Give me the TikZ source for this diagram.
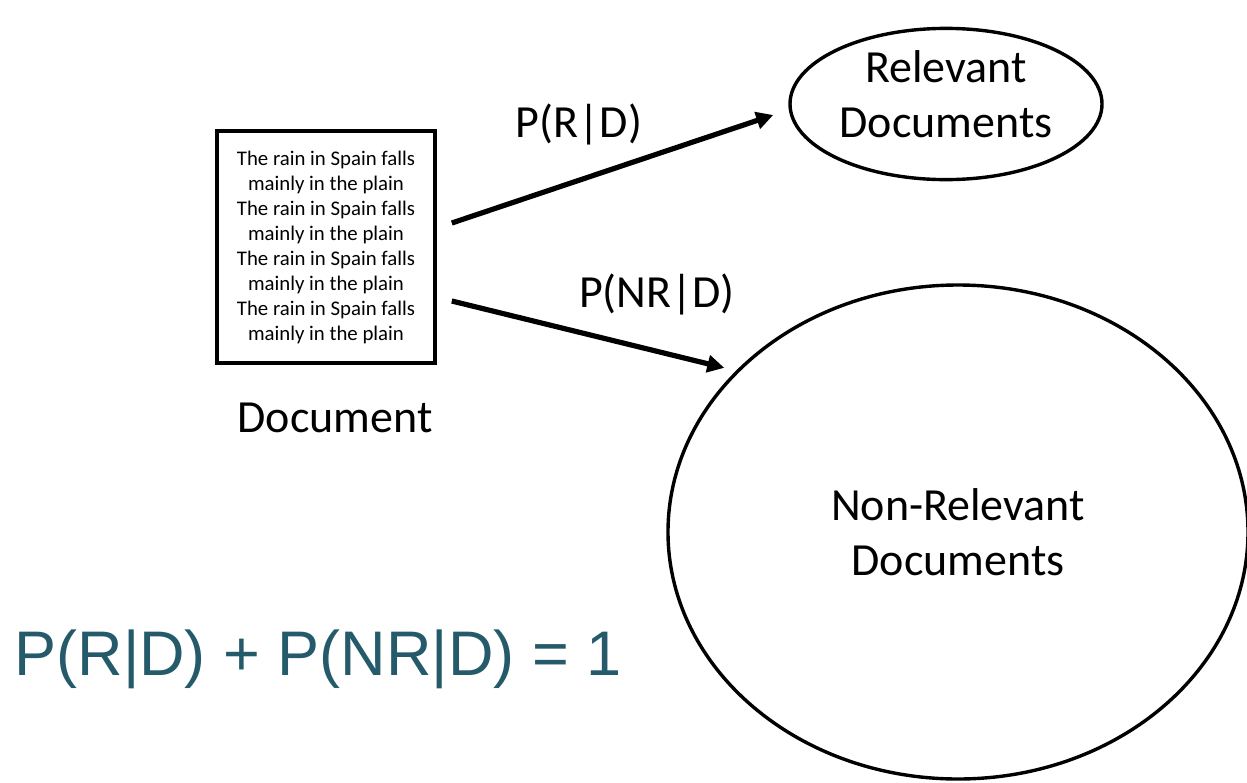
\documentclass[tikz,border=0pt]{standalone}
\usepackage{fontspec}
\setmainfont{Carlito}
\newfontfamily\eqfont{Liberation Sans}
\usetikzlibrary{positioning,shapes.geometric,arrows.meta}
\definecolor{eqteal}{RGB}{36,90,106}
\tikzset{
  doc/.style={draw,line width=1.8pt,minimum width=109pt,minimum height=116pt,inner sep=0pt,align=center,font=\fontsize{10.4}{12.5}\selectfont},
  class/.style={draw,ellipse,line width=1.7pt,inner sep=0pt,align=center,font=\fontsize{23}{27.5}\selectfont},
  lbl/.style={font=\fontsize{23}{27.5}\selectfont,inner sep=0pt},
  prob/.style={line width=2.6pt,-{Triangle[length=8.5pt,width=8.5pt]}}
}
\begin{document}
\begin{tikzpicture}[x=0.5pt,y=-0.5pt]
            \useasboundingbox (0,0) rectangle (1247,782);
            \node[doc] (docbox) at (326,247) {The rain in Spain falls\\ mainly in the plain\\The rain in Spain falls\\ mainly in the plain\\The rain in Spain falls\\ mainly in the plain\\The rain in Spain falls\\ mainly in the plain};
            \node[lbl,below=19pt of docbox,xshift=4.5pt] (doclbl) {Document};

            \node[class,minimum width=156pt,minimum height=74pt,text depth=10pt] (relell) at (946,104) {Relevant\\Documents};
            \node[class,minimum width=290pt,minimum height=247pt] (nonell) at (958,532) {Non-Relevant\\Documents};

            \coordinate[above right=12pt and 7.5pt of docbox.east] (r0);
            \coordinate[below right=27pt and 7.5pt of docbox.east] (n0);
            \coordinate[below left=5.5pt and 7.5pt of relell.west] (r1);

            \draw[prob] (r0) -- (r1);
            \draw[prob,shorten >=6pt] (n0) -- (nonell.144);

            \node[lbl,anchor=base] (prl) at (579,137) {P(R|D)};
            \node[lbl,anchor=base] (pnrl) at (657,307) {P(NR|D)};

            \node[anchor=base,inner sep=0pt,text=eqteal,font=\eqfont\fontsize{31.5}{36}\selectfont] (sumeq) at (318,675) {P(R|D) + P(NR|D) = 1};
\end{tikzpicture}
\end{document}
